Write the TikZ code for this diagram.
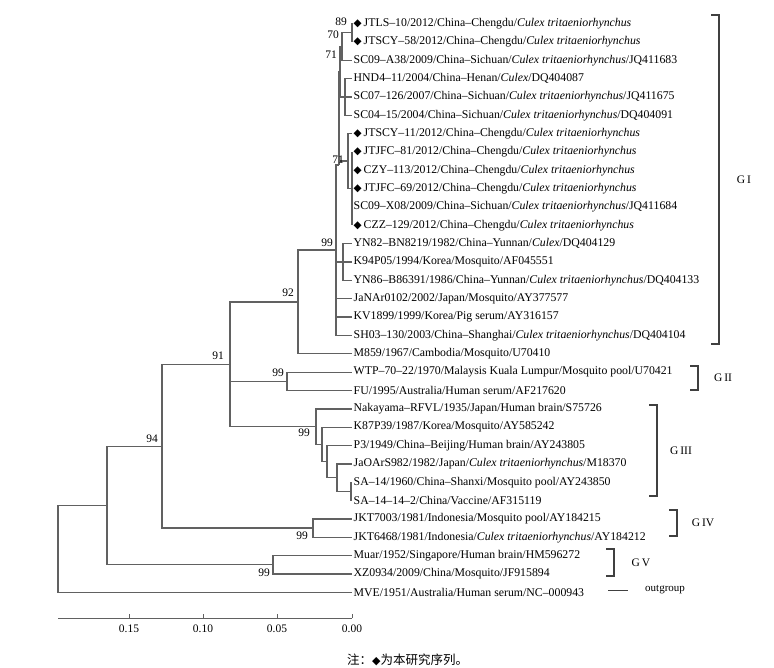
\documentclass[tikz,border=0pt]{standalone}
\usepackage{fontspec}
\setmainfont{Liberation Serif}
\newfontfamily\symfont{DejaVu Sans}
\newfontfamily\cjkfont{Noto Sans CJK SC}
\newcommand{\dia}{{\symfont\fontsize{10.5}{10}\selectfont\char"25C6}\,}
\newcommand{\cu}{\textit{Culex tritaeniorhynchus}}

\tikzset{
  branch/.style={draw=black!62, line width=1.3pt},
  taxon/.style={anchor=west, inner sep=0pt, font=\fontsize{11.8}{13}\selectfont},
  boot/.style={inner sep=0pt, font=\fontsize{11.5}{13}\selectfont},
  clade/.style={draw=black!75, line width=1.2pt},
}

\begin{document}
\begin{tikzpicture}[x=1pt, y=-1pt]
  \useasboundingbox (0,0) rectangle (774,668);

  % leaf tips
  \foreach \i in {0,...,31} {
    \coordinate (l\i) at (352, 23.5+18.35*\i);
  }

  \foreach \i/\txt in {
    0/{\dia JTLS–10/2012/China–Chengdu/\cu},
    1/{\dia JTSCY–58/2012/China–Chengdu/\cu},
    2/{SC09–A38/2009/China–Sichuan/\cu/JQ411683},
    3/{HND4–11/2004/China–Henan/\textit{Culex}/DQ404087},
    4/{SC07–126/2007/China–Sichuan/\cu/JQ411675},
    5/{SC04–15/2004/China–Sichuan/\cu/DQ404091},
    6/{\dia JTSCY–11/2012/China–Chengdu/\cu},
    7/{\dia JTJFC–81/2012/China–Chengdu/\cu},
    8/{\dia CZY–113/2012/China–Chengdu/\cu},
    9/{\dia JTJFC–69/2012/China–Chengdu/\cu},
    10/{SC09–X08/2009/China–Sichuan/\cu/JQ411684},
    11/{\dia CZZ–129/2012/China–Chengdu/\cu},
    12/{YN82–BN8219/1982/China–Yunnan/\textit{Culex}/DQ404129},
    13/{K94P05/1994/Korea/Mosquito/AF045551},
    14/{YN86–B86391/1986/China–Yunnan/\cu/DQ404133},
    15/{JaNAr0102/2002/Japan/Mosquito/AY377577},
    16/{KV1899/1999/Korea/Pig serum/AY316157},
    17/{SH03–130/2003/China–Shanghai/\cu/DQ404104},
    18/{M859/1967/Cambodia/Mosquito/U70410},
    19/{WTP–70–22/1970/Malaysis Kuala Lumpur/Mosquito pool/U70421},
    20/{FU/1995/Australia/Human serum/AF217620},
    21/{Nakayama–RFVL/1935/Japan/Human brain/S75726},
    22/{K87P39/1987/Korea/Mosquito/AY585242},
    23/{P3/1949/China–Beijing/Human brain/AY243805},
    24/{JaOArS982/1982/Japan/\cu/M18370},
    25/{SA–14/1960/China–Shanxi/Mosquito pool/AY243850},
    26/{SA–14–14–2/China/Vaccine/AF315119},
    27/{JKT7003/1981/Indonesia/Mosquito pool/AY184215},
    28/{JKT6468/1981/Indonesia/\cu/AY184212},
    29/{Muar/1952/Singapore/Human brain/HM596272},
    30/{XZ0934/2009/China/Mosquito/JF915894},
    31/{MVE/1951/Australia/Human serum/NC–000943}
  } {
    \node[taxon] (t\i) at (353.5, 23.5+18.35*\i) {\txt};
  }

  % inner nodes
  \coordinate (n89) at (352, 32.7);
  \coordinate (n70) at (342, 46.4);
  \coordinate (nhn) at (345, 96.9);
  \coordinate (n71a) at (340, 71.7);
  \coordinate (nb2) at (352, 188.65);
  \coordinate (n71b) at (348, 161);
  \coordinate (nu) at (339, 165);
  \coordinate (gi) at (336, 250);
  \coordinate (nyn) at (343, 262.05);
  \coordinate (n92) at (298, 301.9);
  \coordinate (gii) at (287, 381.3);
  \coordinate (nsa) at (351, 491.4);
  \coordinate (nja) at (337, 477.7);
  \coordinate (np3) at (327, 461.6);
  \coordinate (nk8) at (322, 444.4);
  \coordinate (giii) at (316, 426.6);
  \coordinate (n91) at (230, 364.3);
  \coordinate (giv) at (313, 528.1);
  \coordinate (n94) at (162, 446.2);
  \coordinate (gv) at (273, 564.8);
  \coordinate (n107) at (107, 505.5);
  \coordinate (root) at (58, 549);

  \foreach \p/\c in {n89/l0, n89/l1, n70/n89, n70/l2, nhn/l3, nhn/l4, nhn/l5,
    n71a/n70, n71a/nhn, nb2/l7, nb2/l8, nb2/l9, nb2/l10, nb2/l11,
    n71b/l6, n71b/nb2, nu/n71a, nu/n71b, gi/nu, gi/nyn, gi/l15, gi/l16, gi/l17,
    nyn/l12, nyn/l13, nyn/l14, n92/gi, n92/l18, gii/l19, gii/l20,
    nsa/l25, nsa/l26, nja/l24, nja/nsa, np3/l23, np3/nja, nk8/l22, nk8/np3,
    giii/l21, giii/nk8, n91/n92, n91/gii, n91/giii, giv/l27, giv/l28,
    n94/n91, n94/giv, gv/l29, gv/l30, n107/n94, n107/gv, root/n107, root/l31} {
    \draw[branch] (\p) |- (\c);
  }

  % bootstrap values
  \foreach \nm/\x/\y/\val in {b1/341/22/89, b2/333/35/70, b3/331/55/71, b4/338/160/71,
    b5/327/243/99, b6/288/293/92, b7/218/356/91, b8/278/373/99, b9/304/433/99,
    b10/152/439/94, b11/302/536/99, b12/264/573/99} {
    \node[boot] (\nm) at (\x,\y) {\val};
  }

  % clade brackets
  \foreach \nm/\x/\ya/\yb/\lx/\lab in {c1/719/15/344/744/{G\,I}, c2/698/366/390/723/{G\,II},
    c3/657/405/496/681/{G\,III}, c4/677/510/536/703/{G\,IV}, c5/614/549/576/641/{G\,V}} {
    \draw[clade] (\x-8,\ya) -- (\x,\ya) -- (\x,\yb) -- (\x-8,\yb);
    \node[boot] (\nm) at (\lx, {(\ya+\yb)/2}) {\lab};
  }
  \coordinate (og) at (608,590);
  \node[taxon, font=\fontsize{11}{12}\selectfont] (ogl) at (645,590) {outgroup};
  \draw[clade, line width=1pt] (og) -- ++(20,0);

  % scale bar
  \coordinate (s0) at (58,618);
  \coordinate (s1) at (352,618);
  \draw[branch, line width=1pt] (s0) -- (s1);
  \foreach \x/\val in {129/0.15, 203/0.10, 277/0.05, 352/0.00} {
    \draw[branch, line width=1pt] (\x,618) -- (\x,614);
    \node[boot] (sc\x) at (\x,629) {\val};
  }

  \node[anchor=west, inner sep=0pt, font=\cjkfont\fontsize{12.5}{13}\selectfont] (note) at (347,660)
    {注：{\symfont\fontsize{11}{11}\selectfont\char"25C6}为本研究序列。};
\end{tikzpicture}
\end{document}
